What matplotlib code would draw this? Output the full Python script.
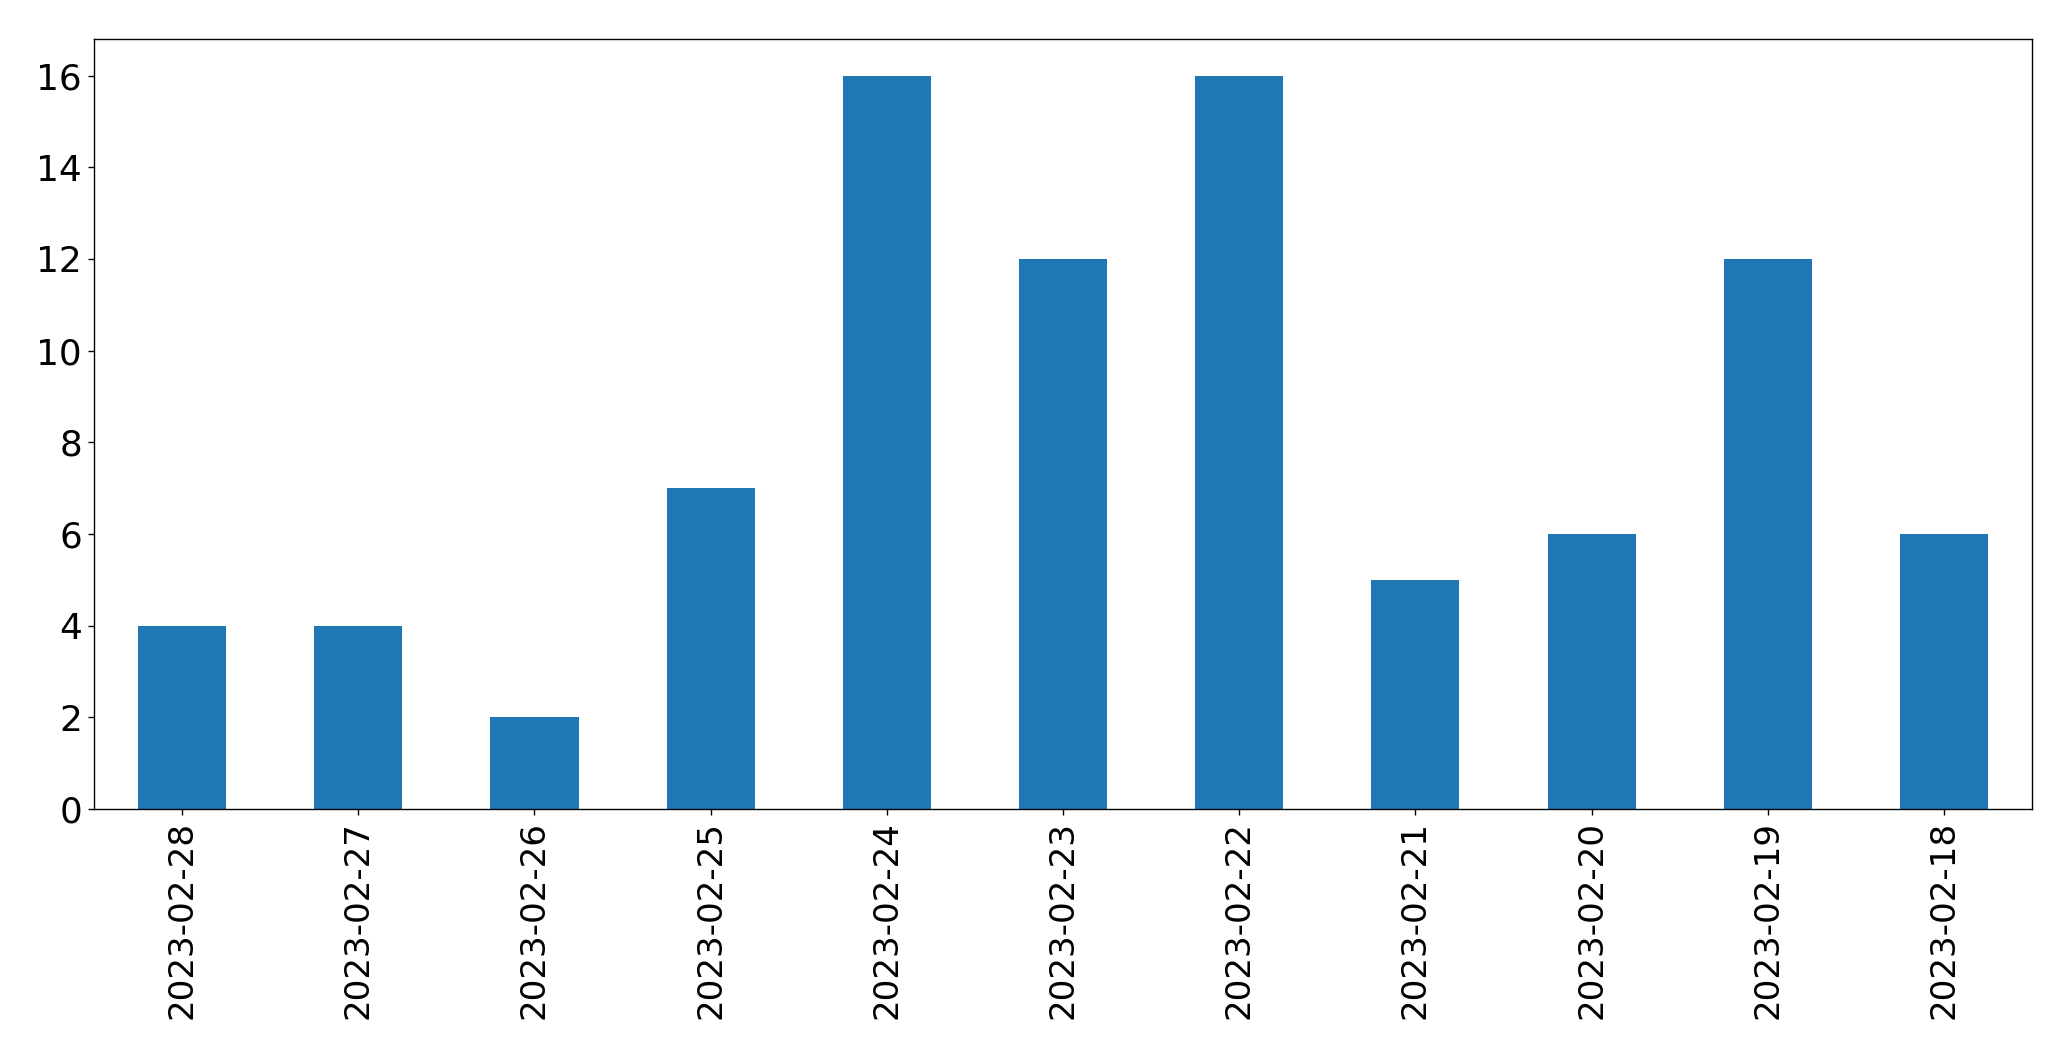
import pandas as pd
import matplotlib
matplotlib.use("Agg")
import matplotlib.pyplot as plt

dates = ["2023-02-28", "2023-02-27", "2023-02-26", "2023-02-25", "2023-02-24",
         "2023-02-23", "2023-02-22", "2023-02-21", "2023-02-20", "2023-02-19",
         "2023-02-18"]
counts = [4, 4, 2, 7, 16, 12, 16, 5, 6, 12, 6]

s = pd.Series(counts, index=dates)

dpi = 123
fig, ax = plt.subplots(figsize=(2071 / dpi, 1061 / dpi), dpi=dpi)
s.plot(kind="bar", ax=ax, color="#1f77b4", fontsize=20)
ax.tick_params(axis="y", labelsize=21)
fig.subplots_adjust(left=94 / 2071, right=2032 / 2071,
                    top=1 - 39 / 1061, bottom=1 - 809 / 1061)

plt.savefig("out.png", dpi=dpi)
